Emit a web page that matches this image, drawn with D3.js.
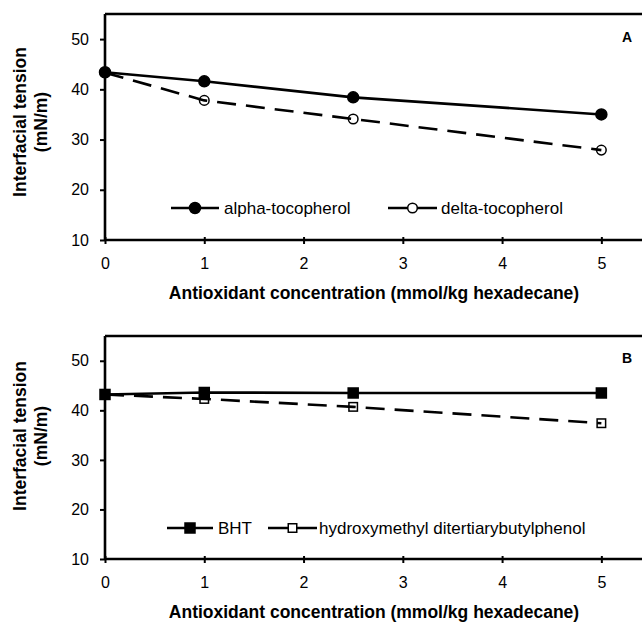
<!DOCTYPE html>
<html>
<head>
<meta charset="utf-8">
<script src="https://cdn.jsdelivr.net/npm/d3@7/dist/d3.min.js"></script>
<style>
  html, body { margin: 0; padding: 0; background: #fff; }
  svg { display: block; }
  text { font-family: "Liberation Sans", Arial, sans-serif; fill: #000; }
</style>
</head>
<body>
<svg id="chart" width="642" height="622"></svg>
<script>
// Antioxidant concentration (mmol/kg hexadecane)
const concentrations = [0, 1, 2.5, 5];
const xTicks = [0, 1, 2, 3, 4, 5];
const yTicks = [10, 20, 30, 40, 50];

// Interfacial tension (mN/m)
const alphaTocopherol = [43.4, 41.6, 38.4, 35.0];
const deltaTocopherol = [43.3, 37.8, 34.1, 27.9];
const bht = [43.2, 43.6, 43.5, 43.5];
const hydroxymethylDTBP = [43.2, 42.3, 40.7, 37.4];

const panels = [
  {
    letter: "A", top: 14, bottom: 240, titleY: 122,
    series: [
      { name: "alpha-tocopherol", values: alphaTocopherol, dash: null, shape: "circle", filled: true },
      { name: "delta-tocopherol", values: deltaTocopherol, dash: "19,10", shape: "circle", filled: false }
    ],
    legend: [ { x0: 171, x1: 219, tx: 224 }, { x0: 388, x1: 437, tx: 441 } ], legendY: 208,
    letterPos: [627, 42]
  },
  {
    letter: "B", top: 336, bottom: 559, titleY: 436,
    series: [
      { name: "BHT", values: bht, dash: null, shape: "square", filled: true },
      { name: "hydroxymethyl ditertiarybutylphenol", values: hydroxymethylDTBP, dash: "19,10", shape: "square", filled: false }
    ],
    legend: [ { x0: 167, x1: 213, tx: 218 }, { x0: 268, x1: 317, tx: 319 } ], legendY: 528,
    letterPos: [627, 363]
  }
];

const svg = d3.select("#chart");
const left = 105, right = 651;
const FONT = "Liberation Sans, Arial, sans-serif";

panels.forEach(p => {
  const x = d3.scaleLinear().domain([0, 5.5]).range([left, right]);
  const y = d3.scaleLinear().domain([10, 55]).range([p.bottom, p.top]);
  const g = svg.append("g");

  // top frame line
  g.append("line").attr("x1", left).attr("x2", 642).attr("y1", p.top).attr("y2", p.top)
    .attr("stroke", "#000").attr("stroke-width", 2.6);

  // y axis
  const ya = g.append("g").attr("transform", `translate(${left},0)`)
    .call(d3.axisLeft(y).tickValues(yTicks).tickFormat(d3.format("d"))
      .tickSize(5).tickPadding(11).tickSizeOuter(0));
  ya.select(".domain").attr("d", `M0,${p.top}V${p.bottom}`).attr("stroke-width", 2.6);
  ya.selectAll(".tick line").attr("stroke-width", 2);
  ya.selectAll("text").attr("font-size", 16).attr("font-family", FONT);

  // x axis
  const xa = g.append("g").attr("transform", `translate(0,${p.bottom})`)
    .call(d3.axisBottom(x).tickValues(xTicks).tickFormat(d3.format("d"))
      .tickSize(4).tickPadding(14).tickSizeOuter(0));
  xa.select(".domain").attr("d", `M${left},0H642`).attr("stroke-width", 2.6);
  xa.selectAll(".tick line").attr("stroke-width", 2).attr("y1", -3);
  xa.selectAll("text").attr("font-size", 16).attr("font-family", FONT);

  // axis titles
  const yt = g.append("text").attr("transform", `translate(26,${p.titleY}) rotate(-90)`)
    .attr("text-anchor", "middle").attr("font-size", 17.5).attr("font-weight", "bold");
  yt.append("tspan").attr("x", 0).attr("dy", 0).text("Interfacial tension");
  yt.append("tspan").attr("x", 0).attr("dy", 21).text("(mN/m)");

  g.append("text").attr("x", 374).attr("y", p.bottom + 59).attr("text-anchor", "middle")
    .attr("font-size", 17.5).attr("font-weight", "bold")
    .text("Antioxidant concentration (mmol/kg hexadecane)");

  g.append("text").attr("x", p.letterPos[0]).attr("y", p.letterPos[1]).attr("text-anchor", "middle")
    .attr("font-size", 14).attr("font-weight", "bold").text(p.letter);

  const line = d3.line().x((d, i) => x(concentrations[i])).y(d => y(d));

  function marker(sel, shape, filled, cx, cy) {
    if (shape === "circle") {
      sel.append("circle").attr("cx", cx).attr("cy", cy).attr("r", filled ? 5.5 : 4.8)
        .attr("fill", filled ? "#000" : "none").attr("stroke", "#000").attr("stroke-width", 1.5);
    } else {
      const s = filled ? 10 : 8.5;
      sel.append("rect").attr("x", cx - s / 2).attr("y", cy - s / 2).attr("width", s).attr("height", s)
        .attr("fill", filled ? "#000" : "none").attr("stroke", "#000").attr("stroke-width", 1.5);
    }
  }

  p.series.forEach((s, si) => {
    g.append("path").datum(s.values).attr("d", line).attr("fill", "none")
      .attr("stroke", "#000").attr("stroke-width", 2.6)
      .attr("stroke-dasharray", s.dash);
    s.values.forEach((v, i) => marker(g, s.shape, s.filled, x(concentrations[i]), y(v)));

    // legend entry
    const L = p.legend[si];
    g.append("line").attr("x1", L.x0).attr("x2", L.x1).attr("y1", p.legendY).attr("y2", p.legendY)
      .attr("stroke", "#000").attr("stroke-width", 2.6);
    const lm = g.append("g");
    const mx = (L.x0 + L.x1) / 2;
    if (!s.filled) {
      if (s.shape === "circle") lm.append("circle").attr("cx", mx).attr("cy", p.legendY).attr("r", 4.8)
        .attr("fill", "#fff").attr("stroke", "#000").attr("stroke-width", 1.5);
      else lm.append("rect").attr("x", mx - 4.25).attr("y", p.legendY - 4.25).attr("width", 8.5).attr("height", 8.5)
        .attr("fill", "#fff").attr("stroke", "#000").attr("stroke-width", 1.5);
    } else {
      marker(lm, s.shape, true, mx, p.legendY);
    }
    g.append("text").attr("x", L.tx).attr("y", p.legendY + 6).attr("font-size", 17).text(s.name);
  });
});
</script>
</body>
</html>
